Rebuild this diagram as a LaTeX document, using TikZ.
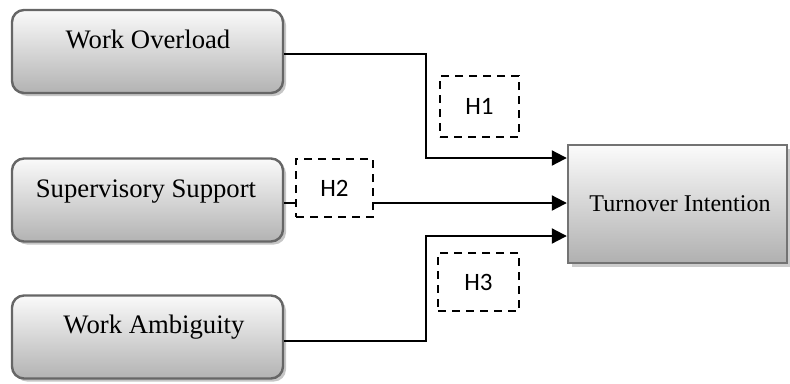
\documentclass[tikz,border=0pt]{standalone}
\usepackage{fontspec}
\setmainfont{Liberation Serif}
\newfontfamily\hfont{Carlito}
\usetikzlibrary{shadows,arrows.meta}
\tikzset{
  leftbox/.style={rounded corners=12pt, draw=black!60, line width=2.4pt,
    top color=gray!4, bottom color=gray!60, minimum width=271pt, minimum height=83pt,
    drop shadow={shadow xshift=3pt, shadow yshift=-3pt, fill=gray!45, opacity=1}},
  rightbox/.style={draw=black!55, line width=2.4pt,
    top color=gray!3, bottom color=gray!62, minimum width=219pt, minimum height=118pt,
    drop shadow={shadow xshift=4pt, shadow yshift=-4pt, fill=gray!40, opacity=1}},
  lbl/.style={font=\fontsize{26.7}{31}\selectfont, inner sep=0pt},
  hbox/.style={draw, dash pattern=on 8pt off 6pt, line width=2.8pt,
    font=\hfont\fontsize{25}{30}\selectfont, inner sep=0pt},
  conn/.style={line width=2.1pt},
  arr/.style={conn, -{Triangle[length=15pt,width=15pt]}}
}
\begin{document}
\begin{tikzpicture}[x=1pt,y=-1pt]
\useasboundingbox (0,0) rectangle (790,383);
% left boxes
\node[leftbox] (wo) at (147.5,51.5) {};
\node[leftbox] (ss) at (147.5,200) {};
\node[leftbox] (wa) at (147.5,337) {};
\node[lbl, anchor=base] (wot) at (148,48) {Work Overload};
\node[lbl, anchor=base] (sst) at (146,197) {Supervisory Support};
\node[lbl, anchor=base] (wat) at (154,333) {Work Ambiguity};
% right box
\node[rightbox] (ti) at (677.5,204) {};
\node[lbl, font=\fontsize{24}{28}\selectfont, anchor=base] (tit) at (680,211) {Turnover Intention};
% hypothesis boxes
\node[hbox, minimum width=79pt, minimum height=61pt] (h1) at (479.5,106.5) {H1};
\node[hbox, minimum width=77pt, minimum height=58pt] (h2) at (334.5,188) {H2};
\node[hbox, minimum width=81pt, minimum height=58pt] (h3) at (478.5,282) {H3};
% connectors
\coordinate (k1) at (426,54);
\coordinate (k3) at (426,341);
\draw[arr] (wo.east |- k1) -- (k1) |- (ti.west |- 0,158);
\draw[conn] (ss.east |- 0,203) -- (h2.west |- 0,203);
\draw[arr] (h2.east |- 0,203) -- (ti.west |- 0,203);
\draw[arr] (wa.east |- k3) -- (k3) |- (ti.west |- 0,236);
\end{tikzpicture}
\end{document}
